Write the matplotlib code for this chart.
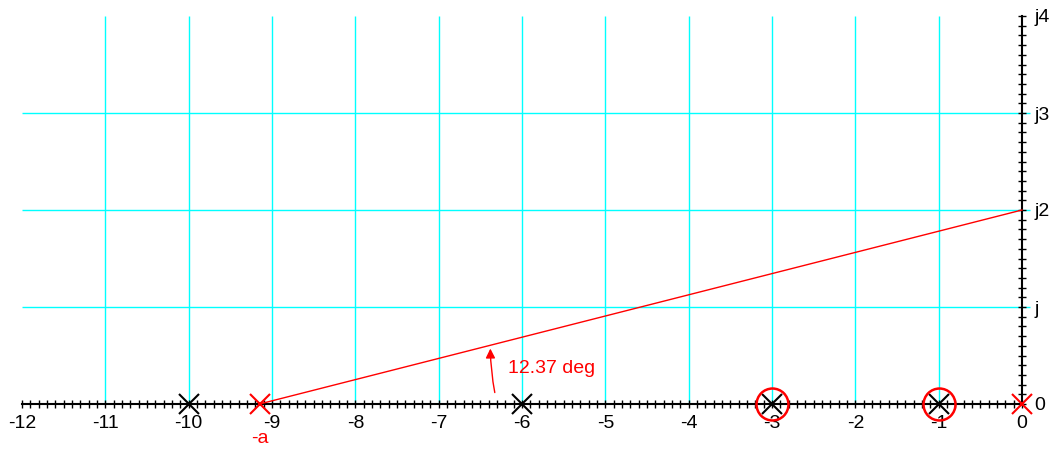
import matplotlib.pyplot as plt
import numpy as np

plt.rcParams['font.family'] = ['Liberation Sans', 'DejaVu Sans']

# datos del plano s
polos = [-10, -6, -3, -1]          # polos (x negras)
ceros = [-3, -1]                   # ceros (circulos rojos)
polo_origen = 0                    # polo en el origen (x roja)
a_val = -9.15                      # polo -a
cruce_jw = 2.0                     # cruce con el eje imaginario (j2)
angulo_txt = '12.37 deg'

xticks = list(range(-12, 1))
yticks = [0, 1, 2, 3, 4]
yticklabels = ['0', 'j', 'j2', 'j3', 'j4']
grid_x = list(range(-11, 0))
grid_y = [1, 2, 3]

fig = plt.figure(figsize=(10.53, 4.49), dpi=100)
x0, x1 = -12.0, 0.12
ax = fig.add_axes([22 / 1053, 45 / 449, 1010 / 1053, 388 / 449])
ax.set_xlim(x0, x1)
ax.set_ylim(0, 4)

# rejilla cian
ax.vlines(grid_x, -0.05, 4, color='cyan', lw=1, zorder=1)
ax.hlines(grid_y, -12, 0.1, color='cyan', lw=1, zorder=1)

# ejes
for s in ['top', 'left']:
    ax.spines[s].set_visible(False)
ax.spines['bottom'].set_position(('data', 0))
ax.spines['bottom'].set_bounds(-12, 0)
ax.spines['right'].set_position(('data', 0))
ax.spines['right'].set_bounds(0, 4)
ax.spines['bottom'].set_linewidth(1.5)
ax.spines['right'].set_linewidth(1.5)
ax.yaxis.tick_right()
ax.set_xticks(xticks)
ax.set_xticklabels([str(v) for v in xticks])
ax.set_xticks(np.arange(-120, 1) / 10, minor=True)
ax.set_yticks(yticks)
ax.set_yticklabels(yticklabels)
ax.set_yticks(np.arange(0, 41) / 10, minor=True)
ax.tick_params(which='both', direction='inout', width=1, color='black', labelsize=14)
ax.tick_params(which='major', length=6)
ax.tick_params(which='minor', length=6)
ax.tick_params(axis='x', pad=5)
ax.tick_params(axis='y', pad=6)

# linea del polo -a al cruce jw
ax.plot([a_val, 0], [0, cruce_jw], color='red', lw=1, zorder=3)

# polos y ceros
ax.plot(polos, [0] * len(polos), 'x', color='black', ms=14, mew=1.5, clip_on=False, zorder=4)
ax.plot(ceros, [0] * len(ceros), 'o', mfc='none', mec='red', ms=23, mew=1.8, clip_on=False, zorder=5)
ax.plot([polo_origen], [0], 'x', color='red', ms=14, mew=1.5, clip_on=False, zorder=5)
ax.plot([a_val], [0], 'x', color='red', ms=14, mew=1.5, clip_on=False, zorder=5)
ax.text(a_val, -0.27, '-a', color='red', fontsize=14, ha='center', va='top')

# flecha del angulo
ax.annotate('', xy=(-6.38, 0.6), xytext=(-6.32, 0.09),
            arrowprops=dict(arrowstyle='-|>', color='red', lw=1, mutation_scale=14,
                            connectionstyle='arc3,rad=-0.05'))
ax.text(-6.17, 0.37, angulo_txt, color='red', fontsize=14, ha='left', va='center')

fig.savefig('out.png', dpi=100)
